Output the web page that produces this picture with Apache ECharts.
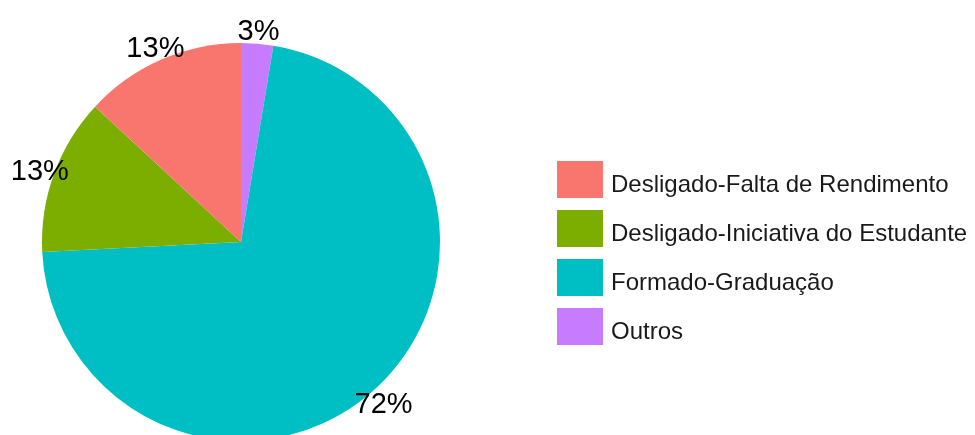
<!DOCTYPE html>
<html lang="pt">

<head>
    <meta charset="UTF-8">
    <title>Situação</title>
    <script src="https://cdn.jsdelivr.net/npm/echarts@6/dist/echarts.min.js"></script>
    <style>
        html, body { margin: 0; padding: 0; background: #fff; }
    </style>
</head>

<body>
    <div id="main" style="width: 975px;height:435px;"></div>
    <script>
        // ordem da legenda
        const legendNames = ['Desligado-Falta de Rendimento', 'Desligado-Iniciativa do Estudante', 'Formado-Graduação', 'Outros'];
        // ordem das fatias, sentido horário a partir do topo
        const sliceNames = ['Outros', 'Formado-Graduação', 'Desligado-Iniciativa do Estudante', 'Desligado-Falta de Rendimento'];
        const sliceValues = [2.6, 71.6, 12.7, 13.1];
        const sliceColors = ['#C77CFF', '#00BFC4', '#7CAE00', '#F8766D'];

        let myChart = echarts.init(document.getElementById('main'));

        let pieData = sliceNames.map(function (n, i) {
            return { name: n, value: sliceValues[i], itemStyle: { color: sliceColors[i] } };
        });
        let labelData = sliceNames.map(function (n, i) {
            return { name: n, value: sliceValues[i] };
        });

        let option = {
            animation: false,
            textStyle: { fontFamily: '"Liberation Sans", Arial, sans-serif' },
            legend: {
                orient: 'vertical',
                left: 552,
                top: 156,
                data: legendNames,
                icon: 'rect',
                itemWidth: 46,
                itemHeight: 37,
                itemGap: 12,
                selectedMode: false,
                formatter: '{t|{name}}',
                textStyle: {
                    fontSize: 24,
                    color: '#1a1a1a',
                    rich: {
                        t: {
                            fontSize: 24,
                            color: '#1a1a1a',
                            padding: [12, 0, 0, 3]
                        }
                    }
                }
            },
            series: [
                {
                    name: 'situacao',
                    type: 'pie',
                    center: [241, 242],
                    radius: [0, 199],
                    startAngle: 90,
                    clockwise: true,
                    label: { show: false },
                    labelLine: { show: false },
                    emphasis: { disabled: true },
                    data: pieData
                },
                {
                    // anel transparente só para posicionar os rótulos
                    name: 'rotulos',
                    type: 'pie',
                    center: [241, 242],
                    radius: [199, 223],
                    startAngle: 90,
                    clockwise: true,
                    silent: true,
                    itemStyle: { color: 'transparent' },
                    label: {
                        show: true,
                        position: 'inside',
                        fontSize: 29,
                        color: '#000',
                        offset: [0, 3],
                        formatter: function (p) { return Math.round(p.value) + '%'; }
                    },
                    labelLine: { show: false },
                    emphasis: { disabled: true },
                    data: labelData
                }
            ]
        };
        myChart.setOption(option);
    </script>
</body>

</html>
